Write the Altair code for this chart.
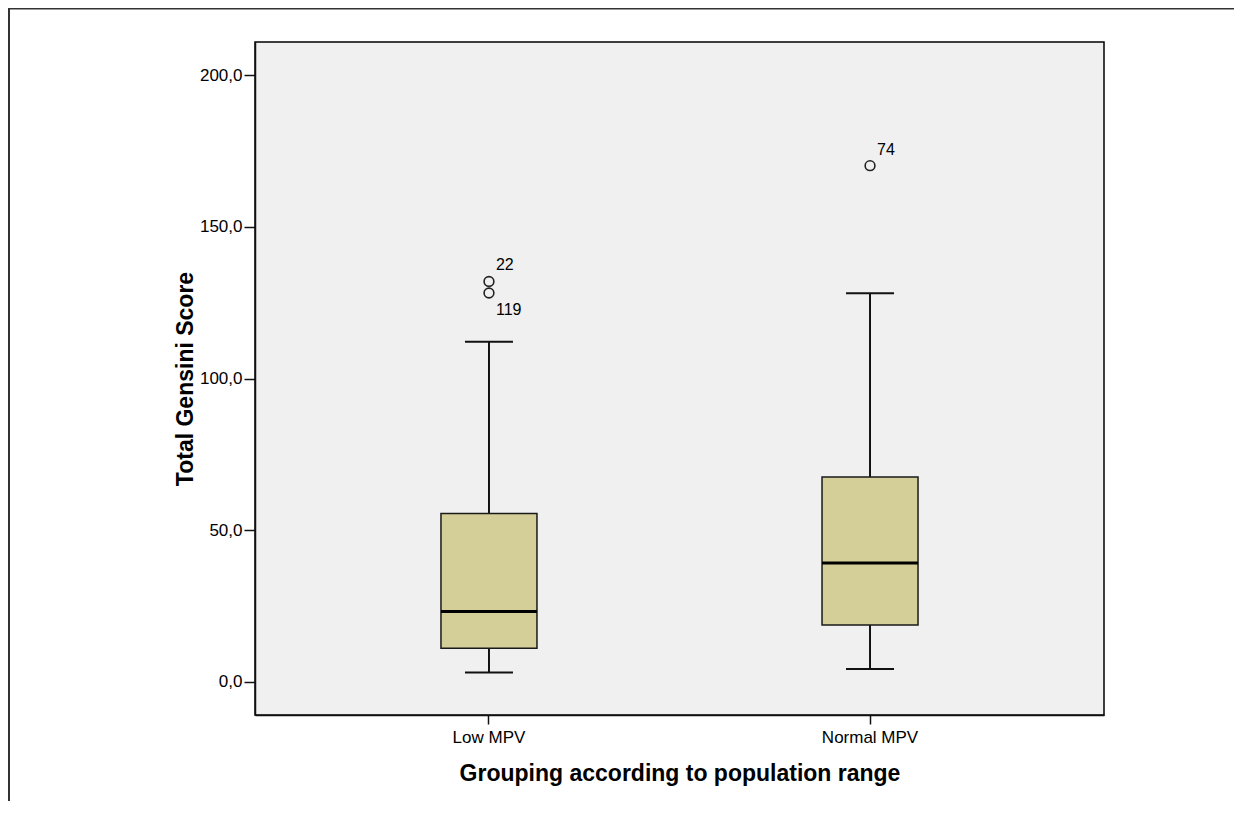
import altair as alt
import pandas as pd

# ---- data ----
groups = ["Low MPV", "Normal MPV"]
lower_whisker = [3.0, 4.2]
q1 = [11.0, 18.7]
median = [23.1, 39.1]
q3 = [55.5, 67.5]
upper_whisker = [112.1, 128.1]

outlier_group = ["Low MPV", "Low MPV", "Normal MPV"]
outlier_value = [132.0, 128.2, 170.2]
outlier_id = ["22", "119", "74"]
outlier_label_side = ["above", "below", "above"]

y_ticks = [0, 50, 100, 150, 200]

box_df = pd.DataFrame({
    "group": groups, "lo": lower_whisker, "q1": q1,
    "med": median, "q3": q3, "hi": upper_whisker,
})
out_df = pd.DataFrame({
    "group": outlier_group, "value": outlier_value,
    "id": outlier_id, "side": outlier_label_side,
})

FONT = "Liberation Sans"
BOX_FILL = "#D4CF98"
INK = "#111111"

x_enc = alt.X(
    "group:N",
    sort=groups,
    scale=alt.Scale(paddingInner=0, paddingOuter=0.114),
    axis=alt.Axis(
        title="Grouping according to population range",
        labelAngle=0, labelFontSize=17, labelFont=FONT, labelColor="#000",
        labelPadding=5, tickSize=9, tickColor=INK, tickWidth=1.5,
        domainColor=INK, domainWidth=1.5,
        titleFont=FONT, titleFontSize=23, titleFontWeight="bold", titleColor="#000",
        titleBaseline="alphabetic", titleY=65,
    ),
)

y_scale = alt.Scale(domain=[-11, 211], nice=False, zero=False)
y_axis = alt.Axis(
    title="Total Gensini Score",
    values=y_ticks,
    labelExpr="replace(format(datum.value, '.1f'), '.', ',')",
    labelFontSize=17, labelFont=FONT, labelColor="#000", labelPadding=2,
    tickSize=11, tickColor=INK, tickWidth=1.5,
    domainColor=INK, domainWidth=1.5, grid=False,
    titleFont=FONT, titleFontSize=23, titleFontWeight="bold", titleColor="#000",
    titleBaseline="alphabetic", titleX=-63, titleY=336.5, titleAngle=-90,
)

base = alt.Chart(box_df)

whisk_up = base.mark_rule(color=INK, strokeWidth=2).encode(
    x=x_enc, y=alt.Y("q3:Q", scale=y_scale, axis=y_axis), y2="hi:Q")
whisk_lo = base.mark_rule(color=INK, strokeWidth=2).encode(
    x=alt.X("group:N", sort=groups), y=alt.Y("lo:Q"), y2="q1:Q")
box = base.mark_bar(size=96, fill=BOX_FILL, stroke="#1a1a1a", strokeWidth=1.5).encode(
    x=alt.X("group:N", sort=groups), y=alt.Y("q1:Q"), y2="q3:Q")
med = base.mark_tick(size=96, thickness=3, color="#000", opacity=1).encode(
    x=alt.X("group:N", sort=groups), y=alt.Y("med:Q"))
cap_hi = base.mark_tick(size=48, thickness=2, color=INK, opacity=1).encode(
    x=alt.X("group:N", sort=groups), y=alt.Y("hi:Q"))
cap_lo = base.mark_tick(size=48, thickness=2, color=INK, opacity=1).encode(
    x=alt.X("group:N", sort=groups), y=alt.Y("lo:Q"))

obase = alt.Chart(out_df)
pts = obase.mark_point(shape="circle", filled=False, size=95, stroke="#222",
                       strokeWidth=1.6, opacity=1).encode(
    x=alt.X("group:N", sort=groups), y=alt.Y("value:Q"))
lab_above = obase.transform_filter(alt.datum.side == "above").mark_text(
    align="left", baseline="middle", dx=7, dy=-16, font=FONT, fontSize=16, color="#000"
).encode(x=alt.X("group:N", sort=groups), y=alt.Y("value:Q"), text="id:N")
lab_below = obase.transform_filter(alt.datum.side == "below").mark_text(
    align="left", baseline="middle", dx=7, dy=17, font=FONT, fontSize=16, color="#000"
).encode(x=alt.X("group:N", sort=groups), y=alt.Y("value:Q"), text="id:N")

# outer picture frame (decoration)
frame_df = pd.DataFrame({"k": [0]})
frame_left = alt.Chart(frame_df).mark_rule(color="#333", strokeWidth=2).encode(
    x=alt.value(-246), y=alt.value(-34), y2=alt.value(800))
frame_top = alt.Chart(frame_df).mark_rule(color="#333", strokeWidth=2).encode(
    x=alt.value(-246), x2=alt.value(1100), y=alt.value(-33.5))

chart = alt.layer(
    whisk_up, whisk_lo, box, med, cap_hi, cap_lo, pts, lab_above, lab_below,
    frame_left, frame_top,
).properties(
    width=849, height=673,
    autosize=alt.AutoSizeParams(type="none"),
    padding={"left": 247, "top": 34, "right": 130, "bottom": 86},
    background="white",
).configure_view(
    fill="#F0F0F0", stroke="#000", strokeWidth=1.5,
)

chart.save("out.html", embed_options={"renderer": "svg", "actions": False})
